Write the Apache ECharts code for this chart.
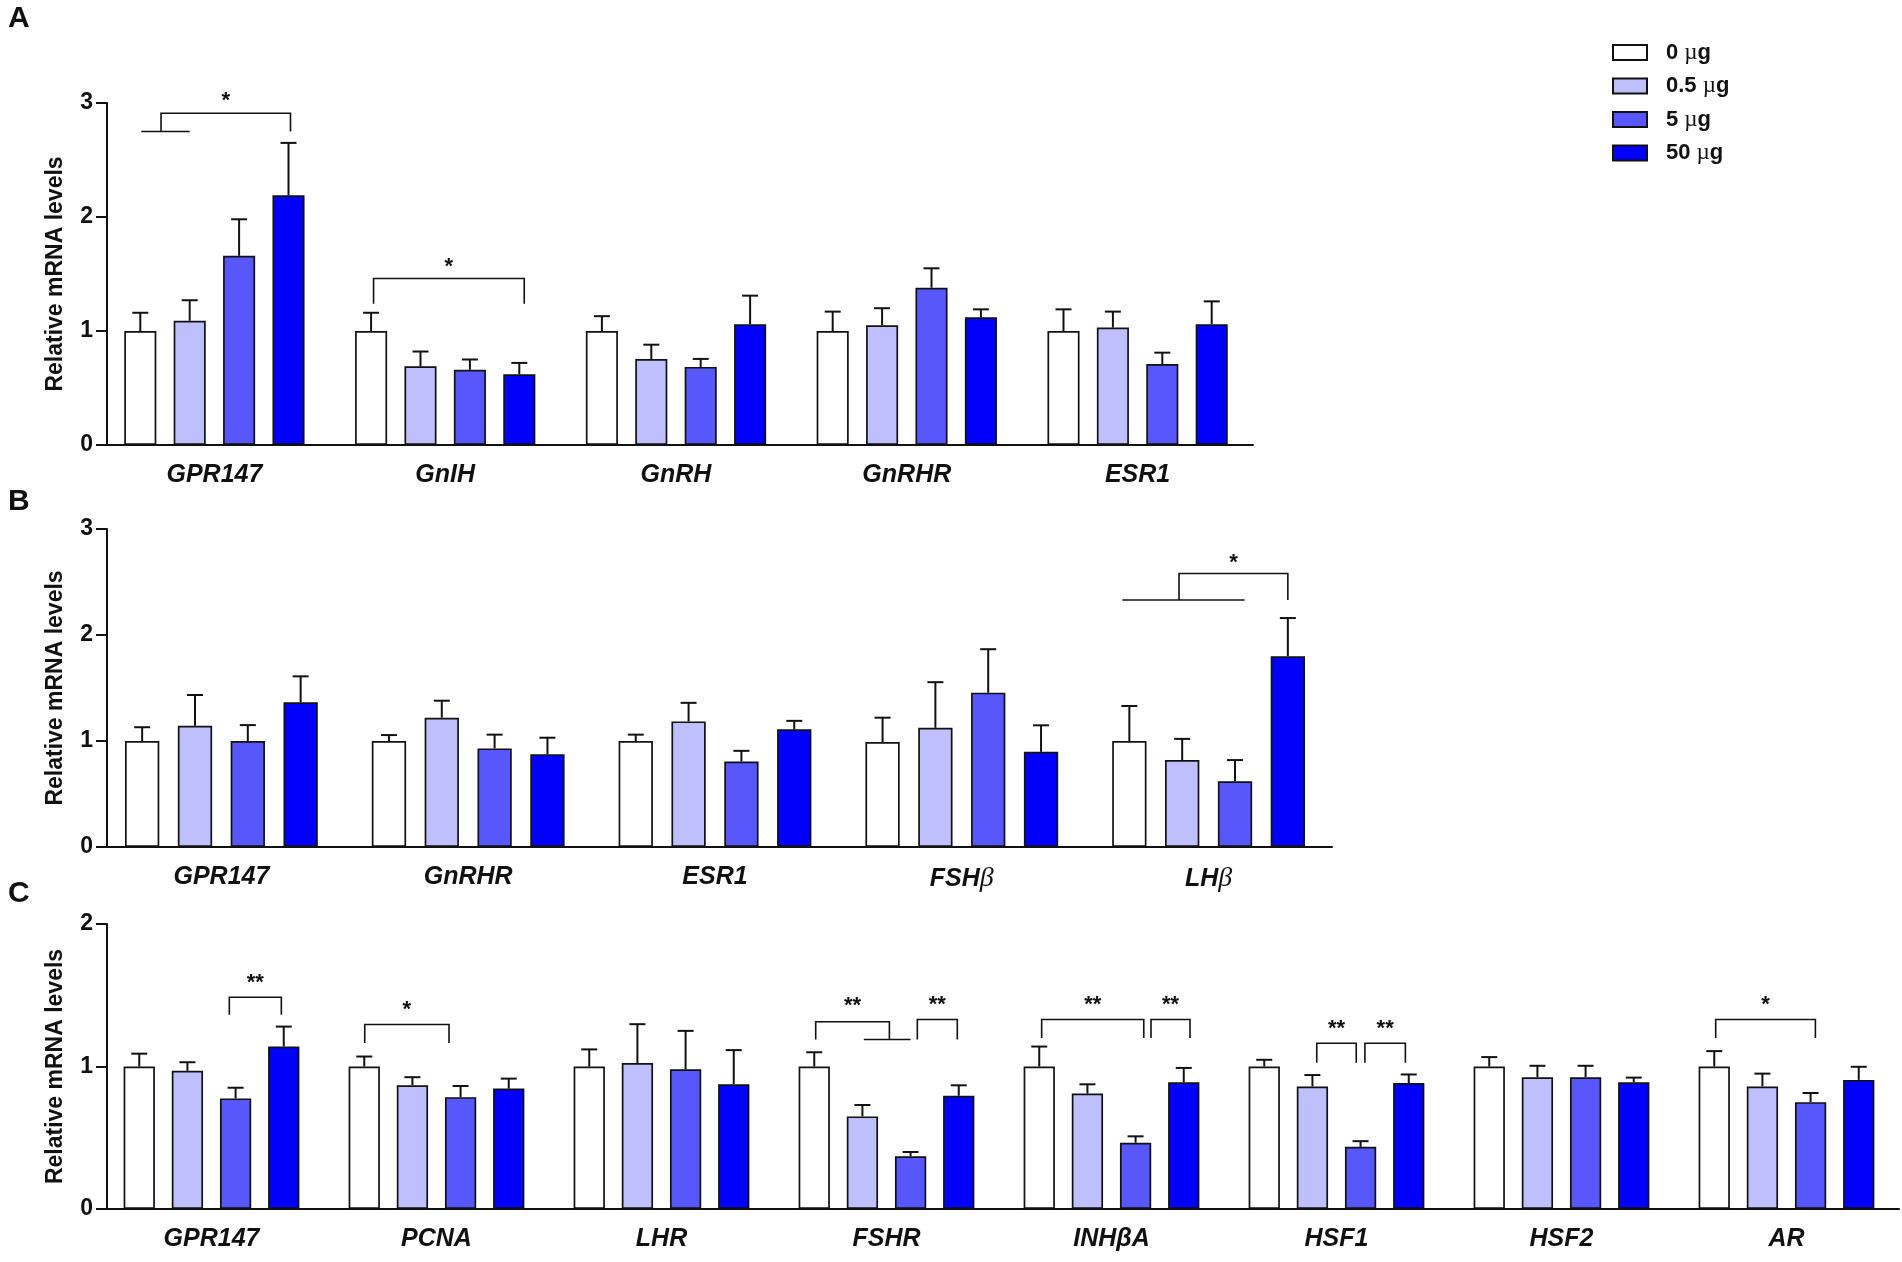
<!doctype html>
<html>
<head>
  <meta charset="UTF-8" />
  <title>Relative mRNA levels</title>
  <script src="https://cdn.jsdelivr.net/npm/echarts@6/dist/echarts.min.js"></script>
  <style>
    html, body { margin: 0; padding: 0; background: #fff; }
    #chart { width: 1902px; height: 1262px; }
  </style>
</head>
<body>
  <div id="chart"></div>
  <script>
    // doses (legend) and fill colours
    const doses = ['0 µg', '0.5 µg', '5 µg', '50 µg'];
    const doseColors = ['#ffffff', '#bfbffd', '#5757fb', '#0000fb'];

    // panel A
    const genesA = ['GPR147', 'GnIH', 'GnRH', 'GnRHR', 'ESR1'];
    const meanA = [
      [1.0, 1.0, 1.0, 1.0, 1.0],
      [1.09, 0.69, 0.755, 1.05, 1.03],
      [1.66, 0.66, 0.685, 1.38, 0.71],
      [2.19, 0.62, 1.06, 1.12, 1.06]
    ];
    const semA = [
      [0.16, 0.16, 0.13, 0.17, 0.19],
      [0.18, 0.13, 0.125, 0.15, 0.14],
      [0.32, 0.09, 0.07, 0.17, 0.10],
      [0.46, 0.10, 0.25, 0.07, 0.20]
    ];
    const sigA = [
      { cat: 0, from: 0.42, to: 3.04, top: 2.91, fromEnd: 2.75, toEnd: 2.75, group: [0.02, 1.0], label: '*', labelY: 3.06 },
      { cat: 1, from: 0.05, to: 3.1, top: 1.46, fromEnd: 1.24, toEnd: 1.24, label: '*', labelY: 1.61 }
    ];

    // panel B
    const genesB = ['GPR147', 'GnRHR', 'ESR1', 'FSHβ', 'LHβ'];
    const meanB = [
      [1.0, 1.0, 1.0, 0.99, 1.0],
      [1.144, 1.22, 1.185, 1.125, 0.82],
      [1.0, 0.93, 0.807, 1.456, 0.62],
      [1.365, 0.876, 1.11, 0.898, 1.80]
    ];
    const semB = [
      [0.13, 0.056, 0.06, 0.23, 0.33],
      [0.29, 0.16, 0.175, 0.43, 0.20],
      [0.15, 0.13, 0.10, 0.41, 0.20],
      [0.245, 0.155, 0.08, 0.25, 0.36]
    ];
    const sigB = [
      { cat: 4, from: 0.94, to: 3.0, top: 2.58, fromEnd: 2.33, toEnd: 2.33, group: [-0.13, 2.18], label: '*', labelY: 2.73 }
    ];

    // panel C
    const genesC = ['GPR147', 'PCNA', 'LHR', 'FSHR', 'INHβA', 'HSF1', 'HSF2', 'AR'];
    const meanC = [
      [1.0, 1.0, 1.0, 1.0, 1.0, 1.0, 1.0, 1.0],
      [0.97, 0.868, 1.024, 0.65, 0.81, 0.86, 0.925, 0.86],
      [0.776, 0.785, 0.98, 0.37, 0.465, 0.436, 0.925, 0.75],
      [1.14, 0.845, 0.875, 0.795, 0.89, 0.884, 0.89, 0.906]
    ];
    const semC = [
      [0.09, 0.07, 0.12, 0.10, 0.14, 0.047, 0.066, 0.108],
      [0.06, 0.057, 0.273, 0.08, 0.065, 0.08, 0.08, 0.09],
      [0.075, 0.078, 0.27, 0.03, 0.045, 0.04, 0.08, 0.064],
      [0.14, 0.07, 0.24, 0.073, 0.10, 0.06, 0.032, 0.092]
    ];
    const sigC = [
      { cat: 0, from: 1.87, to: 2.95, top: 1.486, fromEnd: 1.363, toEnd: 1.363, label: '**', labelY: 1.62 },
      { cat: 1, from: 0.01, to: 1.76, top: 1.295, fromEnd: 1.165, toEnd: 1.165, label: '*', labelY: 1.43 },
      { cat: 3, from: 0.03, to: 1.56, top: 1.314, fromEnd: 1.189, toEnd: 1.186, group: [1.03, 2.0], label: '**', labelY: 1.46 },
      { cat: 3, from: 2.14, to: 2.97, top: 1.33, fromEnd: 1.19, toEnd: 1.19, label: '**', labelY: 1.47 },
      { cat: 4, from: 0.05, to: 2.17, top: 1.33, fromEnd: 1.2, toEnd: 1.2, label: '**', labelY: 1.47 },
      { cat: 4, from: 2.32, to: 3.13, top: 1.33, fromEnd: 1.2, toEnd: 1.2, label: '**', labelY: 1.47 },
      { cat: 5, from: 1.09, to: 1.91, top: 1.163, fromEnd: 1.026, toEnd: 1.026, label: '**', labelY: 1.3 },
      { cat: 5, from: 2.09, to: 2.93, top: 1.163, fromEnd: 1.026, toEnd: 1.026, label: '**', labelY: 1.3 },
      { cat: 7, from: 0.03, to: 2.1, top: 1.33, fromEnd: 1.2, toEnd: 1.2, label: '*', labelY: 1.47 }
    ];

    const FONT = '"Liberation Sans", Arial, Helvetica, sans-serif';
    const SERIF = '"Liberation Serif", "DejaVu Serif", serif';
    const INK = '#111';
    const BAR_W = 0.139, BAR_GAP = 0.54;
    const STEP = BAR_W * (1 + BAR_GAP);

    // x axis runs a little left of the y axis, as in the original figure
    const panels = [
      { genes: genesA, mean: meanA, sem: semA, sig: sigA, max: 3, yShift: -8,
        grid: { left: 99, top: 103, width: 1154, height: 342 } },
      { genes: genesB, mean: meanB, sem: semB, sig: sigB, max: 3, yShift: -9, serifBeta: true,
        grid: { left: 98, top: 529, width: 1234, height: 318 } },
      { genes: genesC, mean: meanC, sem: semC, sig: sigC, max: 2, yShift: -8,
        grid: { left: 99, top: 924, width: 1800, height: 285 } }
    ];

    function doseX(api, cat, dose) {
      const band = api.size([1, 0])[0];
      return api.coord([cat, 0])[0] + (dose - 1.5) * STEP * band;
    }

    function renderErr(params, api) {
      const g = api.value(0), d = api.value(1), m = api.value(2), s = api.value(3);
      const x = doseX(api, g, d);
      const y0 = api.coord([g, m])[1];
      const y1 = api.coord([g, m + s])[1];
      const style = { stroke: INK, lineWidth: 2 };
      return {
        type: 'group',
        children: [
          { type: 'line', shape: { x1: x, y1: y0, x2: x, y2: y1 }, style },
          { type: 'line', shape: { x1: x - 8, y1: y1, x2: x + 8, y2: y1 }, style }
        ]
      };
    }

    function sigRenderer(sig) {
      return function (params, api) {
        const b = sig[api.value(2)];
        const y = v => api.coord([b.cat, v])[1];
        const xf = doseX(api, b.cat, b.from), xt = doseX(api, b.cat, b.to);
        const style = { stroke: INK, lineWidth: 1.6, fill: null };
        const children = [{
          type: 'polyline',
          shape: { points: [[xf, y(b.fromEnd)], [xf, y(b.top)], [xt, y(b.top)], [xt, y(b.toEnd)]] },
          style
        }];
        if (b.group) {
          const g1 = doseX(api, b.cat, b.group[0]), g2 = doseX(api, b.cat, b.group[1]);
          children.push({ type: 'line', shape: { x1: g1, y1: y(b.fromEnd), x2: g2, y2: y(b.fromEnd) }, style });
        }
        children.push({
          type: 'text',
          x: (xf + xt) / 2,
          y: y(b.labelY) + 5,
          style: {
            text: b.label, fill: INK, font: 'bold 22px ' + FONT,
            align: 'center', verticalAlign: 'middle'
          }
        });
        return { type: 'group', children };
      };
    }

    const grids = [], xAxes = [], yAxes = [], series = [];
    panels.forEach((p, pi) => {
      grids.push(Object.assign({ outerBoundsMode: 'none' }, p.grid));
      xAxes.push({
        type: 'category', gridIndex: pi, data: p.genes,
        axisLine: { lineStyle: { color: INK, width: 2 } },
        axisTick: { alignWithLabel: true, length: 12, lineStyle: { color: INK, width: 2 } },
        axisLabel: {
          color: INK, fontFamily: FONT, fontWeight: 'bold', fontStyle: 'italic', fontSize: 25, margin: 18,
          formatter: p.serifBeta ? (v => v.replace('β', '{b|β}')) : null,
          rich: { b: { fontFamily: SERIF, fontStyle: 'italic', fontWeight: 'normal', fontSize: 28, color: INK } }
        }
      });
      yAxes.push({
        type: 'value', gridIndex: pi, min: 0, max: p.max, interval: 1, offset: p.yShift,
        name: 'Relative mRNA levels', nameLocation: 'middle', nameGap: 40,
        nameTextStyle: { color: INK, fontFamily: FONT, fontWeight: 'bold', fontSize: 23 },
        axisLine: { show: true, lineStyle: { color: INK, width: 2 } },
        axisTick: { show: true, length: 11, lineStyle: { color: INK, width: 2 } },
        splitLine: { show: false },
        axisLabel: { color: INK, fontFamily: FONT, fontWeight: 'bold', fontSize: 23, margin: 14 }
      });
      doses.forEach((name, d) => {
        series.push({
          type: 'bar', name, xAxisIndex: pi, yAxisIndex: pi,
          data: p.mean[d], barWidth: (BAR_W * 100) + '%', barGap: (BAR_GAP * 100) + '%',
          itemStyle: { color: doseColors[d], borderColor: INK, borderWidth: 1.7 },
          emphasis: { disabled: true }, silent: true
        });
      });
      const errData = [];
      doses.forEach((name, d) => {
        p.genes.forEach((g, gi) => errData.push([gi, d, p.mean[d][gi], p.sem[d][gi]]));
      });
      series.push({
        type: 'custom', xAxisIndex: pi, yAxisIndex: pi, silent: true,
        encode: { x: 0, y: 2 }, renderItem: renderErr, data: errData, z: 3
      });
      series.push({
        type: 'custom', xAxisIndex: pi, yAxisIndex: pi, silent: true,
        encode: { x: 0, y: 1 }, renderItem: sigRenderer(p.sig),
        data: p.sig.map((b, i) => [b.cat, b.top, i]), z: 4
      });
    });

    const chart = echarts.init(document.getElementById('chart'), null, { renderer: 'canvas' });
    chart.setOption({
      animation: false,
      backgroundColor: '#fff',
      grid: grids,
      xAxis: xAxes,
      yAxis: yAxes,
      legend: {
        data: doses, orient: 'vertical', left: 1607, top: 36, padding: 5,
        itemWidth: 34, itemHeight: 15, itemGap: 10.5, icon: 'rect', selectedMode: false,
        formatter: n => n.replace('µ', '{m|µ}'),
        textStyle: {
          color: INK, fontFamily: FONT, fontWeight: 'bold', fontSize: 22, padding: [0, 0, 0, 14],
          rich: { m: { fontFamily: SERIF, fontWeight: 'normal', fontSize: 23, color: INK } }
        }
      },
      graphic: [
        { type: 'text', left: 8, top: 4, style: { text: 'A', fill: INK, font: 'bold 30px ' + FONT } },
        { type: 'text', left: 8, top: 487, style: { text: 'B', fill: INK, font: 'bold 30px ' + FONT } },
        { type: 'text', left: 8, top: 879, style: { text: 'C', fill: INK, font: 'bold 30px ' + FONT } }
      ],
      series
    });
    window.addEventListener('resize', () => { chart.resize(); });
  </script>
</body>
</html>
